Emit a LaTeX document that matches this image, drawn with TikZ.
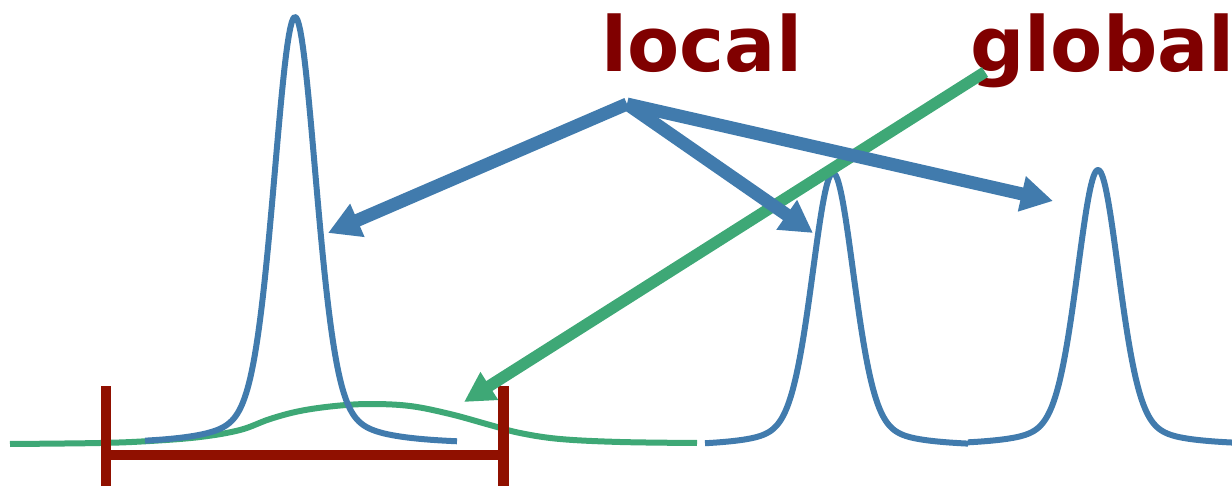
\documentclass[tikz,border=0pt]{standalone}
\usepackage{fontspec}
\newfontfamily\lblfont{DejaVu Sans}
\usetikzlibrary{arrows.meta}
\definecolor{txtred}{RGB}{128,0,0}
\definecolor{barred}{RGB}{144,16,0}
\definecolor{peakblue}{RGB}{65,123,173}
\definecolor{bggreen}{RGB}{62,168,118}
\tikzset{
  lbl/.style={font=\lblfont\bfseries\fontsize{38}{40}\selectfont, text=txtred, inner sep=0pt, anchor=base west},
  peakline/.style={draw=peakblue, line width=3pt, line join=round},
  greencurve/.style={draw=bggreen, line width=3pt},
  bracket/.style={draw=barred, line width=5.2pt},
  bluearrow/.style={draw=peakblue, fill=peakblue, line width=6.5pt, -{Triangle[length=16pt,width=17pt]}},
  greenarrow/.style={draw=bggreen, fill=bggreen, line width=5.8pt, -{Triangle[length=15pt,width=15.5pt]}}
}
\begin{document}
\begin{tikzpicture}[x=0.5pt,y=-0.5pt]
\useasboundingbox (0,0) rectangle (1232,486);
% broad global component
\draw[greencurve] plot[smooth, tension=0.6] coordinates {(10,444) (100,443) (150,441) (200,437) (240,430) (270,419) (300,411) (335,406) (370,404) (410,406) (450,414) (490,425) (520,433) (560,439) (620,442) (697,443)};
% local peaks
\draw[peakline] plot[domain=145:457, samples=220] (\x, {445 - 428*(0.7*exp(-0.5*((\x-295)/21)^2) + 0.3/(1+((\x-295)/28)^2))});
\draw[peakline] plot[domain=705:968, samples=220] (\x, {447 - 274*(0.7*exp(-0.5*((\x-833)/21)^2) + 0.3/(1+((\x-833)/28)^2))});
\draw[peakline] plot[domain=968:1232, samples=220] (\x, {446 - 276*(0.7*exp(-0.5*((\x-1098)/21)^2) + 0.3/(1+((\x-1098)/28)^2))});
% bracket
\coordinate (bl) at (106,386);
\coordinate (blb) at (106,490);
\coordinate (br) at (503.5,386);
\coordinate (brb) at (503.5,490);
\coordinate (hl) at (106,455);
\coordinate (hr) at (503.5,455);
\draw[bracket] (bl) -- (blb);
\draw[bracket] (br) -- (brb);
\draw[bracket] (hl) -- (hr);
% labels
\node[lbl] (local) at (601,72) {local};
\node[lbl] (global) at (970,72) {global};
% arrows
\coordinate (gsrc) at (985,72);
\coordinate (gtip) at (464,402);
\draw[greenarrow] (gsrc) -- (gtip);
\coordinate (src) at (627,104);
\coordinate (t1) at (328,233);
\coordinate (t2) at (813,233);
\coordinate (t3) at (1053,201);
\draw[bluearrow] (src) -- (t1);
\draw[bluearrow] (src) -- (t2);
\draw[bluearrow] (src) -- (t3);
\end{tikzpicture}
\end{document}
